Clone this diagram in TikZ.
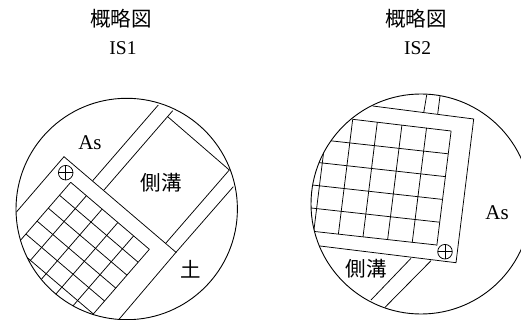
\documentclass[tikz,border=0pt]{standalone}
\usepackage{fontspec}
\setmainfont{Liberation Serif}
\newfontfamily\cjk{Noto Sans CJK JP}
\begin{document}
\begin{tikzpicture}[x=1pt,y=-1pt,line width=0.75pt,
    cjktext/.style={inner sep=0pt,font=\fontsize{20.5}{20.5}\selectfont\cjk},
    nametext/.style={inner sep=0pt,font=\fontsize{19.5}{19.5}\selectfont},
    astext/.style={inner sep=0pt,font=\fontsize{21}{21}\selectfont}]
    \useasboundingbox (0,0) rectangle (521,320);
    % IS1
    \node[cjktext] (titleA) at (121,19) {概略図};
    \node[nametext] (nameA) at (123,48) {IS1};
    \begin{scope}
        \clip (126.7,209) circle (110.7);
        % Pad
        \draw (16.7,211.7) -- (64,156.7) -- (176,252.3) -- (119.3,319);
        \draw (176,252.3) -- (233.3,186.7);
        % Road and ditch
        \draw (92.7,180.7) -- (158.3,105);
        \draw (104,190) -- (172.7,110.7);
        \draw (167.7,116.7) -- (229.3,170) -- (165.7,243.3);
        % Grid
        \foreach \i in {0,...,5}
            \draw (70.7-\i*11.2,182.3+\i*12.93) -- ++(78.65,67);
        \foreach \j in {0,...,5}
            \draw (70.7+\j*15.73,182.3+\j*13.4) -- ++(-70,80.8);
    \end{scope}
    \draw[line width=0.9pt] (126.7,209) circle (110.7);
    \draw (65.7,172.7) circle (7.3);
    \draw (58.4,172.7) -- (73,172.7);
    \draw (65.7,165.4) -- (65.7,180);
    \node[astext] (asA) at (90,143) {As};
    \node[cjktext] (ditchA) at (161.3,183) {側溝};
    \node[cjktext] (soilA) at (190.7,269) {土};
    % IS2
    \node[cjktext] (titleB) at (416,19) {概略図};
    \node[nametext] (nameB) at (417.7,48) {IS2};
    \begin{scope}
        \clip (421,204) circle (110);
        % Pad
        \draw (372.7,106) -- (473.7,119) -- (456,262.7) -- (320,246);
        % Road and ditch
        \draw (426.7,95) -- (423.7,112.7);
        \draw (440,96) -- (437.7,114);
        \draw (411,258.3) -- (371,300);
        \draw (431,260.7) -- (385,307.3);
        % Grid
        \draw (352.7,119.3) -- (451,131);
        \foreach \i in {1,...,5}
            \draw (451-\i*2.87,131+\i*22.8) -- ++(-150,-16.6);
        \foreach \j in {0,...,5}
            \draw (328.1+\j*24.6,116.4+\j*2.9) -- ++(-14.3,114.7);
    \end{scope}
    \draw[line width=0.9pt] (421,204) circle (110);
    \draw (445,251.7) circle (7.3);
    \draw (437.7,251.7) -- (452.3,251.7);
    \draw (445,244.4) -- (445,259);
    \node[astext] (asB) at (497,213) {As};
    \node[cjktext] (ditchB) at (366.3,269) {側溝};
\end{tikzpicture}
\end{document}
